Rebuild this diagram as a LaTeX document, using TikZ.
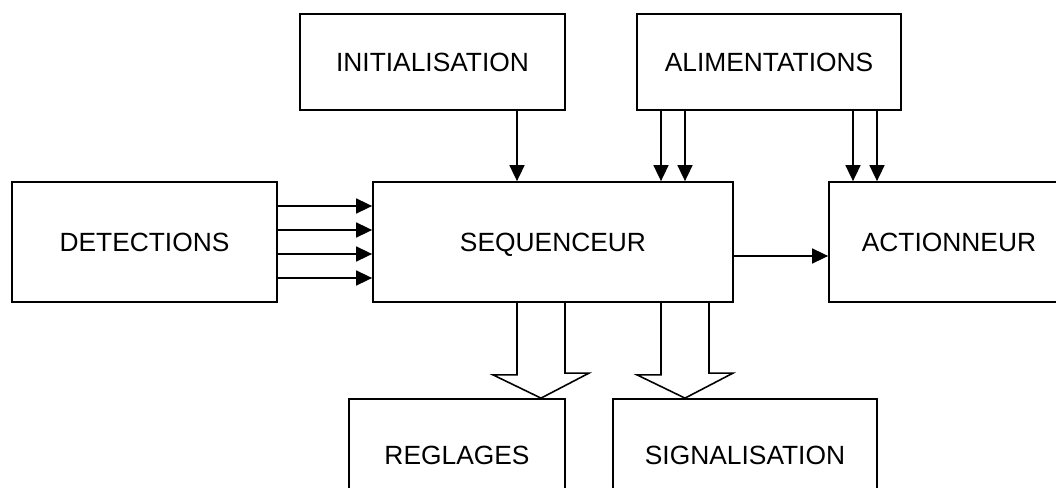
\documentclass[tikz,border=0pt]{standalone}
\usepackage{fontspec}
\setmainfont{Liberation Sans}
\usetikzlibrary{arrows.meta}
\tikzstyle{block} = [rectangle, draw, line width=1pt, minimum height=2.4cm, inner sep=0pt, text height=10.8pt, text depth=0pt, font=\fontsize{15}{18}\selectfont]
\tikzstyle{wire} = [line width=0.9pt, -{Triangle[length=0.32cm, width=0.3cm]}]
\tikzstyle{fat} = [line width=0.9pt, line join=miter]

\begin{document}
\begin{tikzpicture}
		\useasboundingbox (0,0) rectangle (21.12,-9.76);
		\node (init) at (8.65,-1.24) [block, minimum width=5.3cm, minimum height=1.92cm] {INITIALISATION};
		\node (alim) at (15.38,-1.24) [block, minimum width=5.28cm, minimum height=1.92cm] {ALIMENTATIONS};
		\node (det) at (2.89,-4.84) [block, minimum width=5.3cm] {DETECTIONS};
		\node (seq) at (11.06,-4.84) [block, minimum width=7.2cm] {SEQUENCEUR};
		\node (act) at (18.98,-4.84) [block, minimum width=4.8cm] {ACTIONNEUR};
		\node (regl) at (9.14,-9.1) [block, minimum width=4.32cm, minimum height=2.24cm] {REGLAGES};
		\node (sig) at (14.9,-9.1) [block, minimum width=5.28cm, minimum height=2.24cm] {SIGNALISATION};
		
		\foreach \dy in {0.72,0.24,-0.24,-0.72}
			\draw[wire] ([yshift=\dy cm]det.east) -- ([yshift=\dy cm]seq.west);
		\draw[wire] (init.south -| 10.34,0) -- (10.34,0 |- seq.north);
		\foreach \x in {13.22,13.70}
			\draw[wire] (alim.south -| \x,0) -- (\x,0 |- seq.north);
		\foreach \x in {17.06,17.54}
			\draw[wire] (alim.south -| \x,0) -- (\x,0 |- act.north);
		\draw[wire] ([yshift=-0.28cm]seq.east) -- ([yshift=-0.28cm]seq.east -| act.west);
		
		\draw[fat] (10.34,0 |- seq.south) -- ++(0,-1.44) -- ++(-0.48,0) -- (10.82,0 |- regl.north) -- ++(0.96,0.5) -- ++(-0.48,0) -- (11.30,0 |- seq.south);
		\draw[fat] (13.22,0 |- seq.south) -- ++(0,-1.44) -- ++(-0.48,0) -- (13.70,0 |- sig.north) -- ++(0.96,0.5) -- ++(-0.48,0) -- (14.18,0 |- seq.south);
		\end{tikzpicture}
\end{document}
